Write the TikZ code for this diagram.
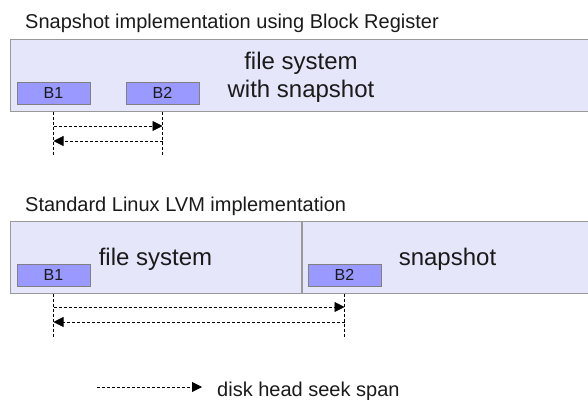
\documentclass[tikz,border=0pt]{standalone}
\usepackage{fontspec}
\setmainfont{Liberation Sans}
\usetikzlibrary{arrows.meta}
\definecolor{fsfill}{HTML}{E6E6FA}
\definecolor{fsline}{HTML}{999999}
\definecolor{blkfill}{HTML}{9999FF}
\definecolor{blkline}{HTML}{808080}
\definecolor{ink}{HTML}{1A1A1A}

\begin{document}
\begin{tikzpicture}[x=1pt,y=-1pt]
  \tikzstyle{every node}+=[inner sep=0pt, text=ink]
  \tikzstyle{fsbox}=[draw=fsline, fill=fsfill, line width=1pt, minimum height=72pt, text depth=0pt, align=center, font=\fontsize{24}{28}\selectfont]
  \tikzstyle{blk}=[draw=blkline, fill=blkfill, line width=1pt, minimum width=73pt, minimum height=22pt, font=\fontsize{16}{19}\selectfont]
  \tikzstyle{seek}=[black, line width=0.8pt, dash pattern=on 3pt off 2pt]
  \tikzstyle{head}=[-{Triangle[length=10pt,width=10pt]}]
  \tikzstyle{caption}=[anchor=base west, font=\fontsize{20}{24}\selectfont]
  \useasboundingbox (0,0) rectangle (588,399);
  \node [caption] (titleTop) at (25,28) {Snapshot implementation using Block Register};
  \node [fsbox, minimum width=582pt] (fsTop) at (301,75) {file system\\with snapshot};
  \node [blk] (topB1) at (53.5,93) {B1};
  \node [blk] (topB2) at (162.5,93) {B2};
  \draw [seek] (topB1 |- fsTop.south) -- ++(0,44);
  \draw [seek] (topB2 |- fsTop.south) -- ++(0,44);
  \draw [seek,head] (topB1 |- 0,126) -- (topB2 |- 0,126);
  \draw [seek,head] (topB2 |- 0,141) -- (topB1 |- 0,141);
  \node [caption] (titleLow) at (25,211) {Standard Linux LVM implementation};
  \node [fsbox, minimum width=291pt] (fsLow) at (155.5,257) {file system};
  \node [fsbox, minimum width=291pt, anchor=west] (snapLow) at (fsLow.east) {snapshot};
  \node [blk] (lowB1) at (53.5,275) {B1};
  \node [blk] (lowB2) at (344.5,275) {B2};
  \draw [seek] (lowB1 |- fsLow.south) -- ++(0,44);
  \draw [seek] (lowB2 |- fsLow.south) -- ++(0,44);
  \draw [seek,head] (lowB1 |- 0,307) -- (lowB2 |- 0,307);
  \draw [seek,head] (lowB2 |- 0,322) -- (lowB1 |- 0,322);
  \coordinate (legStart) at (97,387);
  \node [caption] (seekNote) at (217,396) {disk head seek span};
  \draw [seek,head,shorten >=15pt] (legStart) -- (legStart -| seekNote.west);
\end{tikzpicture}
\end{document}
